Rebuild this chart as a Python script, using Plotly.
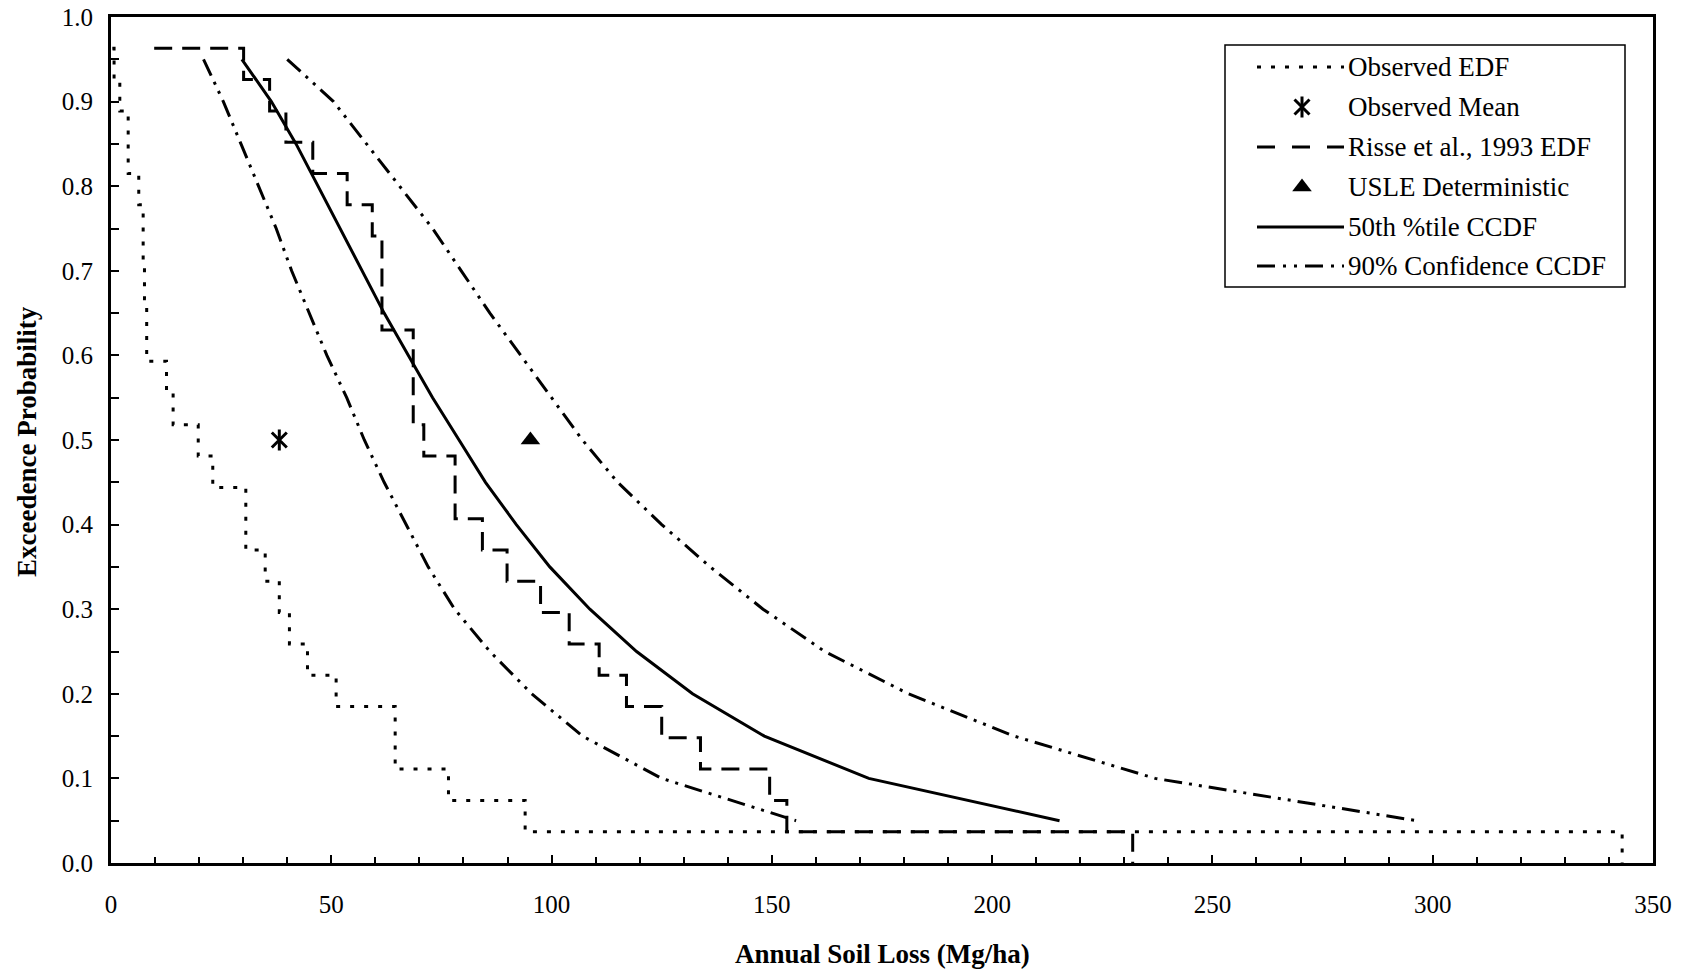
import plotly.graph_objects as go

# ---------------- data ----------------
# Observed EDF (step function): soil loss where each step occurs, exceedance level after step
obs_loss = [0.3, 0.7, 2.0, 3.9, 6.3, 7.3, 7.6, 8.1, 12.6, 14.1, 19.8, 23.1, 30.6, 35.0,
            38.2, 40.5, 44.6, 51.1, 64.5, 76.6, 94.0, 343.0]
obs_prob = [0.963, 0.926, 0.889, 0.815, 0.778, 0.704, 0.667, 0.593, 0.556, 0.518, 0.481,
            0.444, 0.370, 0.333, 0.296, 0.259, 0.222, 0.185, 0.111, 0.074, 0.037, 0.0]

# Risse et al., 1993 EDF (step function)
risse_loss = [9.8, 30.1, 36.0, 39.7, 45.8, 53.6, 59.3, 61.5, 68.6, 71.0, 78.1, 84.3, 89.9,
              97.5, 104.0, 110.8, 117.0, 125.0, 133.8, 149.5, 153.4, 231.9]
risse_prob = [0.963, 0.926, 0.889, 0.852, 0.815, 0.778, 0.741, 0.630, 0.518, 0.481, 0.407,
              0.370, 0.333, 0.296, 0.259, 0.222, 0.185, 0.148, 0.111, 0.074, 0.037, 0.0]

# CCDF probability levels
ccdf_prob = [0.95, 0.90, 0.85, 0.80, 0.75, 0.70, 0.65, 0.60, 0.55, 0.50,
             0.45, 0.40, 0.35, 0.30, 0.25, 0.20, 0.15, 0.10, 0.05]
p50_loss = [29.7, 36.4, 42.0, 47.0, 52.0, 57.0, 62.0, 67.5, 73.0, 79.0,
            85.0, 92.0, 99.6, 108.7, 119.3, 132.0, 148.3, 172.0, 215.3]
lo90_loss = [21.0, 25.5, 29.5, 33.5, 37.5, 41.0, 45.0, 49.0, 53.5, 57.5,
             62.0, 67.0, 72.0, 78.0, 86.0, 95.5, 107.0, 125.0, 155.5]
hi90_loss = [40.0, 50.5, 58.0, 65.5, 73.0, 79.5, 86.0, 93.0, 100.0, 107.0,
             115.0, 125.0, 136.0, 148.0, 162.0, 181.0, 205.0, 237.0, 296.4]

obs_mean_loss, obs_mean_prob = [38.2], [0.5]
usle_loss, usle_prob = [95.2], [0.5]

x_ticks = [0, 50, 100, 150, 200, 250, 300, 350]
legend_labels = ["Observed EDF", "Observed Mean", "Risse et al., 1993 EDF",
                 "USLE Deterministic", "50th %tile CCDF", "90% Confidence CCDF"]

# ---------------- styles ----------------
FONT = "Liberation Serif"
BLACK = "black"
DOT = "4px,10px"
LDASH = "18px,10px"
DASHDOT = "18px,7px,3px,7px,3px,7px"
ASTERISK_PARTS = (("x-thin-open", 15), ("line-ns-open", 15))

fig = go.Figure()

fig.add_trace(go.Scatter(x=obs_loss, y=obs_prob, mode="lines", line_shape="hv",
                         line=dict(color=BLACK, width=3, dash=DOT), showlegend=False))
fig.add_trace(go.Scatter(x=risse_loss, y=risse_prob, mode="lines", line_shape="hv",
                         line=dict(color=BLACK, width=3, dash=LDASH), showlegend=False))
fig.add_trace(go.Scatter(x=p50_loss, y=ccdf_prob, mode="lines",
                         line=dict(color=BLACK, width=3), showlegend=False))
fig.add_trace(go.Scatter(x=lo90_loss, y=ccdf_prob, mode="lines",
                         line=dict(color=BLACK, width=3, dash=DASHDOT), showlegend=False))
fig.add_trace(go.Scatter(x=hi90_loss, y=ccdf_prob, mode="lines",
                         line=dict(color=BLACK, width=3, dash=DASHDOT), showlegend=False))
# asterisk (x + vertical bar)
for sym, sz in ASTERISK_PARTS:
    fig.add_trace(go.Scatter(x=obs_mean_loss, y=obs_mean_prob, mode="markers",
                             marker=dict(symbol=sym, size=sz, color=BLACK,
                                         line=dict(color=BLACK, width=3)),
                             showlegend=False))
fig.add_trace(go.Scatter(x=usle_loss, y=usle_prob, mode="markers",
                         marker=dict(symbol="triangle-up", size=17, color=BLACK),
                         showlegend=False))

# ---------------- manual legend (paper coords = plot area) ----------------
L, R, T, B = 111, 1653, 17, 863
def fx(px):
    return (px - L) / (R - L)
def fy(py):
    return (B - py) / (B - T)

shapes = []
shapes.append(dict(type="rect", xref="paper", yref="paper", x0=fx(1225), x1=fx(1625),
                   y0=fy(287), y1=fy(45), line=dict(color=BLACK, width=1.5),
                   fillcolor="rgba(0,0,0,0)", layer="above"))
row_y = [67, 107, 147, 187, 227, 266]
sx0, sx1, mx, tx = fx(1257), fx(1344), fx(1302), fx(1346)
sample_styles = [("line", DOT), ("marker", None), ("line", "18px,17px"),
                 ("marker", None), ("line", "solid"), ("line", "18px,8px,3px,8px,3px,8px")]
for (kind, dsh), py in zip(sample_styles, row_y):
    if kind == "line":
        shapes.append(dict(type="line", xref="paper", yref="paper", x0=sx0, x1=sx1,
                           y0=fy(py), y1=fy(py), line=dict(color=BLACK, width=3, dash=dsh),
                           layer="above"))

annotations = []
for lab, py in zip(legend_labels, row_y):
    annotations.append(dict(text=lab, xref="paper", yref="paper", x=tx, y=fy(py),
                            xanchor="left", yanchor="middle", showarrow=False,
                            font=dict(family=FONT, size=27, color=BLACK)))

# legend markers on overlay axes spanning plot area
for sym, sz in ASTERISK_PARTS:
    fig.add_trace(go.Scatter(x=[mx], y=[fy(row_y[1])], xaxis="x2", yaxis="y2", mode="markers",
                             marker=dict(symbol=sym, size=sz, color=BLACK,
                                         line=dict(color=BLACK, width=3)),
                             showlegend=False, hoverinfo="skip"))
fig.add_trace(go.Scatter(x=[mx], y=[fy(row_y[3])], xaxis="x2", yaxis="y2", mode="markers",
                         marker=dict(symbol="triangle-up", size=17, color=BLACK),
                         showlegend=False, hoverinfo="skip"))

# axis titles
annotations.append(dict(text="<b>Annual Soil Loss (Mg/ha)</b>", xref="paper", yref="paper",
                        x=0.5, y=fy(954), xanchor="center", yanchor="middle", showarrow=False,
                        font=dict(family=FONT, size=27, color=BLACK)))
annotations.append(dict(text="<b>Exceedence Probability</b>", xref="paper", yref="paper",
                        x=fx(27), y=fy(442), xanchor="center", yanchor="middle", showarrow=False,
                        textangle=-90, font=dict(family=FONT, size=27, color=BLACK)))

axis_common = dict(showline=True, linecolor=BLACK, linewidth=3, mirror=True,
                   showgrid=False, zeroline=False, ticks="inside", tickcolor=BLACK,
                   tickwidth=2, ticklen=8, automargin=False,
                   tickfont=dict(family=FONT, size=25, color=BLACK))

fig.update_layout(
    width=1692, height=971,
    margin=dict(l=L, r=1692 - R, t=T, b=971 - B, autoexpand=False),
    paper_bgcolor="white", plot_bgcolor="white",
    showlegend=False,
    xaxis=dict(range=[0, 350], tickvals=x_ticks, ticklabelstandoff=17,
               minor=dict(dtick=10, ticks="inside", ticklen=6, tickwidth=1.5, tickcolor=BLACK),
               **axis_common),
    yaxis=dict(range=[0, 1.0], dtick=0.1, tickformat=".1f", ticklabelstandoff=10,
               minor=dict(dtick=0.05, ticks="inside", ticklen=8, tickwidth=1.5, tickcolor=BLACK),
               **axis_common),
    xaxis2=dict(range=[0, 1], overlaying="x", visible=False, fixedrange=True),
    yaxis2=dict(range=[0, 1], overlaying="y", visible=False, fixedrange=True),
    shapes=shapes,
    annotations=annotations,
)

fig.write_html("out.html")
